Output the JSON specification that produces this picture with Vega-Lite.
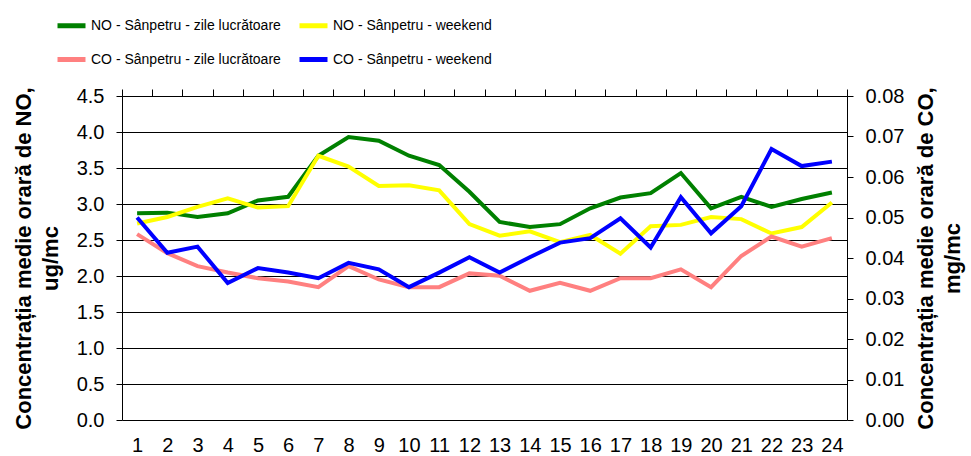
{
  "$schema": "https://vega.github.io/schema/vega-lite/v6.json",
  "width": 725,
  "height": 324,
  "autosize": "none",
  "padding": {"left": 122, "top": 96, "right": 124, "bottom": 36},
  "background": "white",
  "config": {
    "view": {"stroke": null},
    "font": "Liberation Sans",
    "axis": {"labelFont": "Liberation Sans", "labelFontSize": 20, "labelColor": "#000", "domainColor": "#000", "tickColor": "#000", "titleColor": "#000"}
  },
  "datasets": {
    "no": [
      {"h": 1, "s": "NO - Sânpetru - zile lucrătoare", "v": 2.87},
      {"h": 2, "s": "NO - Sânpetru - zile lucrătoare", "v": 2.88},
      {"h": 3, "s": "NO - Sânpetru - zile lucrătoare", "v": 2.82},
      {"h": 4, "s": "NO - Sânpetru - zile lucrătoare", "v": 2.87},
      {"h": 5, "s": "NO - Sânpetru - zile lucrătoare", "v": 3.05},
      {"h": 6, "s": "NO - Sânpetru - zile lucrătoare", "v": 3.10},
      {"h": 7, "s": "NO - Sânpetru - zile lucrătoare", "v": 3.67},
      {"h": 8, "s": "NO - Sânpetru - zile lucrătoare", "v": 3.93},
      {"h": 9, "s": "NO - Sânpetru - zile lucrătoare", "v": 3.88},
      {"h": 10, "s": "NO - Sânpetru - zile lucrătoare", "v": 3.67},
      {"h": 11, "s": "NO - Sânpetru - zile lucrătoare", "v": 3.54},
      {"h": 12, "s": "NO - Sânpetru - zile lucrătoare", "v": 3.17},
      {"h": 13, "s": "NO - Sânpetru - zile lucrătoare", "v": 2.75},
      {"h": 14, "s": "NO - Sânpetru - zile lucrătoare", "v": 2.68},
      {"h": 15, "s": "NO - Sânpetru - zile lucrătoare", "v": 2.72},
      {"h": 16, "s": "NO - Sânpetru - zile lucrătoare", "v": 2.94},
      {"h": 17, "s": "NO - Sânpetru - zile lucrătoare", "v": 3.09},
      {"h": 18, "s": "NO - Sânpetru - zile lucrătoare", "v": 3.15},
      {"h": 19, "s": "NO - Sânpetru - zile lucrătoare", "v": 3.43},
      {"h": 20, "s": "NO - Sânpetru - zile lucrătoare", "v": 2.94},
      {"h": 21, "s": "NO - Sânpetru - zile lucrătoare", "v": 3.10},
      {"h": 22, "s": "NO - Sânpetru - zile lucrătoare", "v": 2.96},
      {"h": 23, "s": "NO - Sânpetru - zile lucrătoare", "v": 3.07},
      {"h": 24, "s": "NO - Sânpetru - zile lucrătoare", "v": 3.16},
      {"h": 1, "s": "NO - Sânpetru - weekend", "v": 2.73},
      {"h": 2, "s": "NO - Sânpetru - weekend", "v": 2.82},
      {"h": 3, "s": "NO - Sânpetru - weekend", "v": 2.96},
      {"h": 4, "s": "NO - Sânpetru - weekend", "v": 3.08},
      {"h": 5, "s": "NO - Sânpetru - weekend", "v": 2.95},
      {"h": 6, "s": "NO - Sânpetru - weekend", "v": 2.97},
      {"h": 7, "s": "NO - Sânpetru - weekend", "v": 3.67},
      {"h": 8, "s": "NO - Sânpetru - weekend", "v": 3.52},
      {"h": 9, "s": "NO - Sânpetru - weekend", "v": 3.25},
      {"h": 10, "s": "NO - Sânpetru - weekend", "v": 3.26},
      {"h": 11, "s": "NO - Sânpetru - weekend", "v": 3.19},
      {"h": 12, "s": "NO - Sânpetru - weekend", "v": 2.72},
      {"h": 13, "s": "NO - Sânpetru - weekend", "v": 2.56},
      {"h": 14, "s": "NO - Sânpetru - weekend", "v": 2.62},
      {"h": 15, "s": "NO - Sânpetru - weekend", "v": 2.47},
      {"h": 16, "s": "NO - Sânpetru - weekend", "v": 2.57},
      {"h": 17, "s": "NO - Sânpetru - weekend", "v": 2.31},
      {"h": 18, "s": "NO - Sânpetru - weekend", "v": 2.69},
      {"h": 19, "s": "NO - Sânpetru - weekend", "v": 2.71},
      {"h": 20, "s": "NO - Sânpetru - weekend", "v": 2.82},
      {"h": 21, "s": "NO - Sânpetru - weekend", "v": 2.79},
      {"h": 22, "s": "NO - Sânpetru - weekend", "v": 2.59},
      {"h": 23, "s": "NO - Sânpetru - weekend", "v": 2.68},
      {"h": 24, "s": "NO - Sânpetru - weekend", "v": 3.02}
    ],
    "co": [
      {"h": 1, "s": "CO - Sânpetru - zile lucrătoare", "v": 0.0459},
      {"h": 2, "s": "CO - Sânpetru - zile lucrătoare", "v": 0.0412},
      {"h": 3, "s": "CO - Sânpetru - zile lucrătoare", "v": 0.0380},
      {"h": 4, "s": "CO - Sânpetru - zile lucrătoare", "v": 0.0364},
      {"h": 5, "s": "CO - Sânpetru - zile lucrătoare", "v": 0.0350},
      {"h": 6, "s": "CO - Sânpetru - zile lucrătoare", "v": 0.0342},
      {"h": 7, "s": "CO - Sânpetru - zile lucrătoare", "v": 0.0328},
      {"h": 8, "s": "CO - Sânpetru - zile lucrătoare", "v": 0.0380},
      {"h": 9, "s": "CO - Sânpetru - zile lucrătoare", "v": 0.0347},
      {"h": 10, "s": "CO - Sânpetru - zile lucrătoare", "v": 0.0328},
      {"h": 11, "s": "CO - Sânpetru - zile lucrătoare", "v": 0.0328},
      {"h": 12, "s": "CO - Sânpetru - zile lucrătoare", "v": 0.0362},
      {"h": 13, "s": "CO - Sânpetru - zile lucrătoare", "v": 0.0356},
      {"h": 14, "s": "CO - Sânpetru - zile lucrătoare", "v": 0.0319},
      {"h": 15, "s": "CO - Sânpetru - zile lucrătoare", "v": 0.0339},
      {"h": 16, "s": "CO - Sânpetru - zile lucrătoare", "v": 0.0319},
      {"h": 17, "s": "CO - Sânpetru - zile lucrătoare", "v": 0.0350},
      {"h": 18, "s": "CO - Sânpetru - zile lucrătoare", "v": 0.0350},
      {"h": 19, "s": "CO - Sânpetru - zile lucrătoare", "v": 0.0372},
      {"h": 20, "s": "CO - Sânpetru - zile lucrătoare", "v": 0.0328},
      {"h": 21, "s": "CO - Sânpetru - zile lucrătoare", "v": 0.0405},
      {"h": 22, "s": "CO - Sânpetru - zile lucrătoare", "v": 0.0453},
      {"h": 23, "s": "CO - Sânpetru - zile lucrătoare", "v": 0.0428},
      {"h": 24, "s": "CO - Sânpetru - zile lucrătoare", "v": 0.0449},
      {"h": 1, "s": "CO - Sânpetru - weekend", "v": 0.0500},
      {"h": 2, "s": "CO - Sânpetru - weekend", "v": 0.0413},
      {"h": 3, "s": "CO - Sânpetru - weekend", "v": 0.0428},
      {"h": 4, "s": "CO - Sânpetru - weekend", "v": 0.0338},
      {"h": 5, "s": "CO - Sânpetru - weekend", "v": 0.0375},
      {"h": 6, "s": "CO - Sânpetru - weekend", "v": 0.0364},
      {"h": 7, "s": "CO - Sânpetru - weekend", "v": 0.0350},
      {"h": 8, "s": "CO - Sânpetru - weekend", "v": 0.0388},
      {"h": 9, "s": "CO - Sânpetru - weekend", "v": 0.0372},
      {"h": 10, "s": "CO - Sânpetru - weekend", "v": 0.0328},
      {"h": 11, "s": "CO - Sânpetru - weekend", "v": 0.0364},
      {"h": 12, "s": "CO - Sânpetru - weekend", "v": 0.0402},
      {"h": 13, "s": "CO - Sânpetru - weekend", "v": 0.0364},
      {"h": 14, "s": "CO - Sânpetru - weekend", "v": 0.0402},
      {"h": 15, "s": "CO - Sânpetru - weekend", "v": 0.0438},
      {"h": 16, "s": "CO - Sânpetru - weekend", "v": 0.0449},
      {"h": 17, "s": "CO - Sânpetru - weekend", "v": 0.0498},
      {"h": 18, "s": "CO - Sânpetru - weekend", "v": 0.0426},
      {"h": 19, "s": "CO - Sânpetru - weekend", "v": 0.0550},
      {"h": 20, "s": "CO - Sânpetru - weekend", "v": 0.0461},
      {"h": 21, "s": "CO - Sânpetru - weekend", "v": 0.0528},
      {"h": 22, "s": "CO - Sânpetru - weekend", "v": 0.0669},
      {"h": 23, "s": "CO - Sânpetru - weekend", "v": 0.0627},
      {"h": 24, "s": "CO - Sânpetru - weekend", "v": 0.0638}
    ]
  },
  "layer": [
    {
      "data": {"name": "no"},
      "mark": {"type": "line", "strokeWidth": 4},
      "encoding": {
        "x": {
          "field": "h", "type": "quantitative",
          "scale": {"domain": [0.5, 24.5], "nice": false, "zero": false},
          "axis": {"values": [1,2,3,4,5,6,7,8,9,10,11,12,13,14,15,16,17,18,19,20,21,22,23,24], "ticks": false, "domain": false, "grid": false, "labelPadding": 15, "labelFlush": false, "title": null}
        },
        "y": {
          "field": "v", "type": "quantitative",
          "scale": {"domain": [0, 4.5], "nice": false},
          "axis": {
            "orient": "left",
            "values": [0, 0.5, 1, 1.5, 2, 2.5, 3, 3.5, 4, 4.5],
            "format": ".1f",
            "tickSize": 6,
            "labelPadding": 12,
            "grid": true,
            "gridColor": {"condition": {"test": "datum.value === 4.5", "value": "#909090"}, "value": "#000000"},
            "gridOpacity": 1,
            "gridWidth": 1,
            "title": ["Concentrația medie orară de NO,", "ug/mc"],
            "titleFont": "Liberation Sans",
            "titleFontSize": 22,
            "titleFontWeight": "bold",
            "titleLineHeight": 27,
            "titlePadding": 14
          }
        },
        "color": {
          "field": "s", "type": "nominal",
          "scale": {
            "domain": ["NO - Sânpetru - zile lucrătoare", "NO - Sânpetru - weekend", "CO - Sânpetru - zile lucrătoare", "CO - Sânpetru - weekend"],
            "range": ["#008000", "#FFFF00", "#FF8080", "#0000FF"]
          },
          "legend": {
            "orient": "none",
            "legendX": -67,
            "legendY": -87,
            "direction": "horizontal",
            "columns": 2,
            "title": null,
            "padding": 0,
            "symbolType": "stroke",
            "symbolSize": 784,
            "symbolStrokeWidth": 5,
            "labelFont": "Liberation Sans",
            "labelFontSize": 14,
            "labelColor": "#000",
            "labelOffset": 3,
            "labelLimit": 400,
            "columnPadding": 8,
            "rowPadding": 7
          }
        }
      }
    },
    {
      "data": {"name": "co"},
      "mark": {"type": "line", "strokeWidth": 4},
      "encoding": {
        "x": {
          "field": "h", "type": "quantitative",
          "scale": {"domain": [0.5, 24.5], "nice": false, "zero": false},
          "axis": {"values": [0.5,1.5,2.5,3.5,4.5,5.5,6.5,7.5,8.5,9.5,10.5,11.5,12.5,13.5,14.5,15.5,16.5,17.5,18.5,19.5,20.5,21.5,22.5,23.5,24.5], "labels": false, "ticks": true, "tickSize": 7, "domain": true, "grid": false, "title": null}
        },
        "y": {
          "field": "v", "type": "quantitative",
          "scale": {"domain": [0, 0.08], "nice": false},
          "axis": {
            "orient": "right",
            "values": [0, 0.01, 0.02, 0.03, 0.04, 0.05, 0.06, 0.07, 0.08],
            "format": ".2f",
            "tickSize": 6,
            "labelPadding": 12,
            "grid": false,
            "title": ["Concentrația medie orară de CO,", "mg/mc"],
            "titleAngle": -90,
            "titleFont": "Liberation Sans",
            "titleFontSize": 22,
            "titleFontWeight": "bold",
            "titleLineHeight": 27,
            "titlePadding": 7
          }
        },
        "color": {"field": "s", "type": "nominal"}
      }
    }
  ],
  "resolve": {"scale": {"y": "independent"}, "axis": {"x": "independent"}}
}
